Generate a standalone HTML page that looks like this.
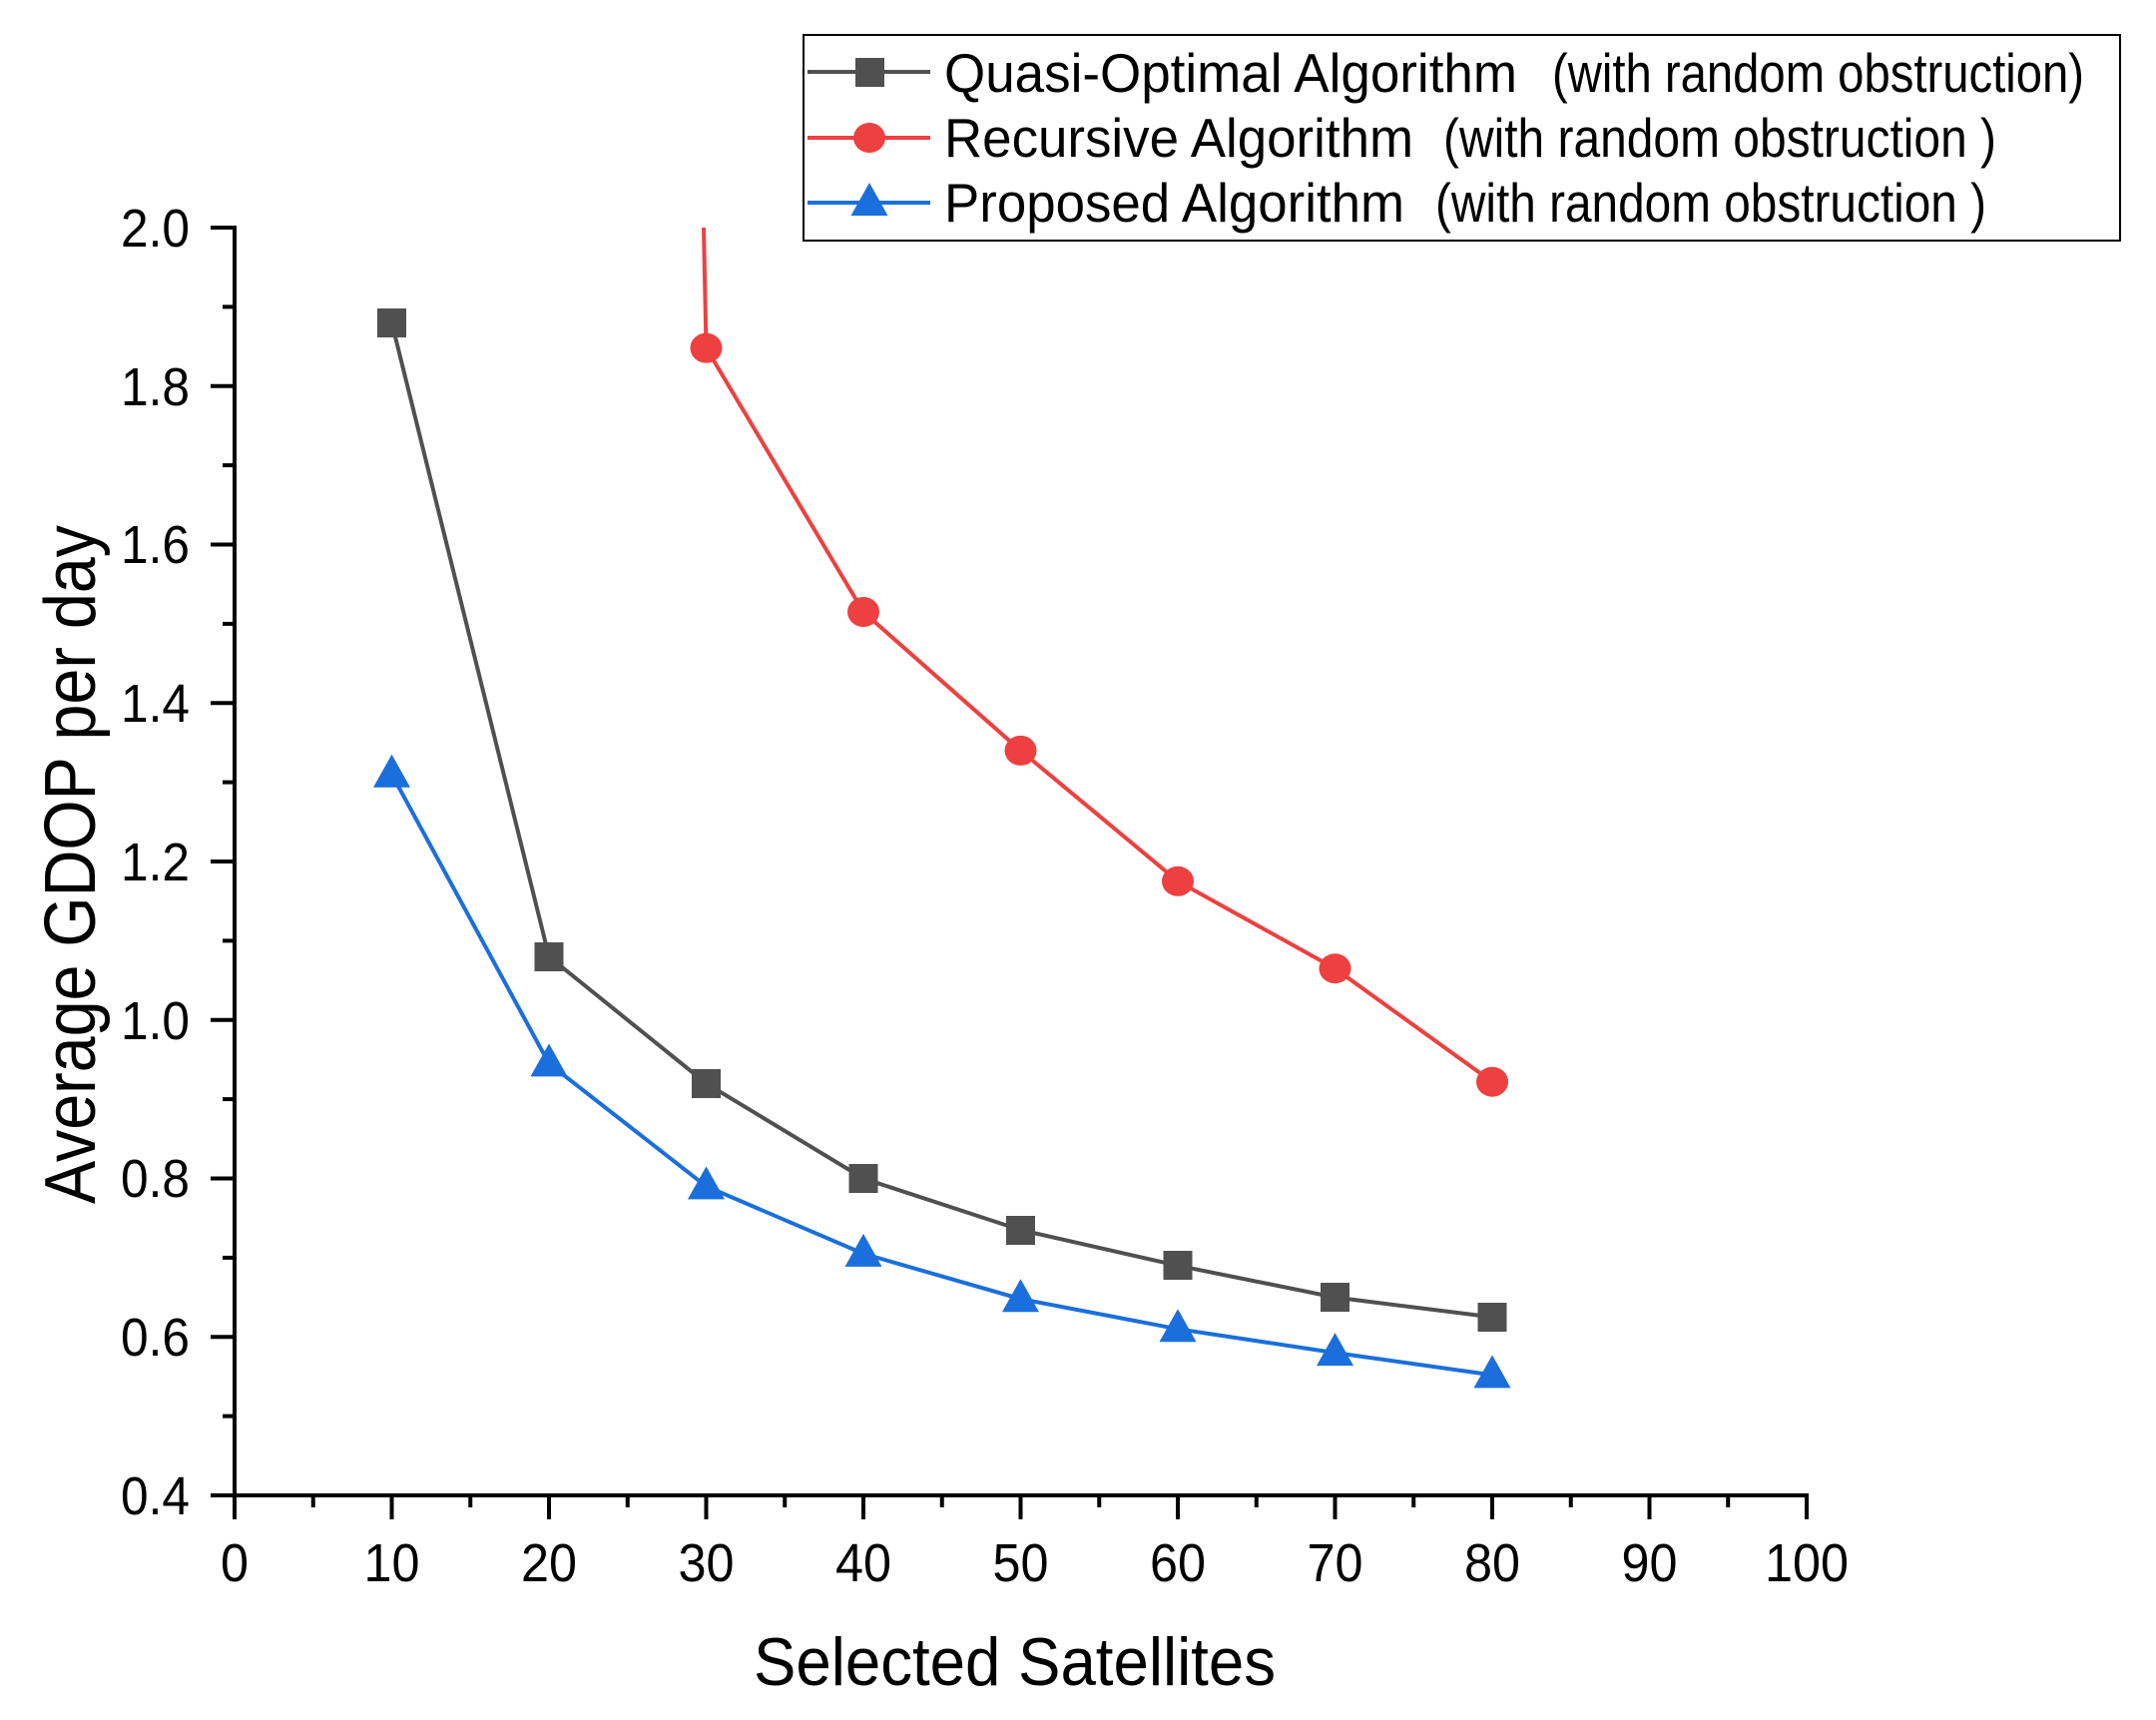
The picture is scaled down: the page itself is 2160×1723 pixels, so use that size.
<!DOCTYPE html>
<html><head><meta charset="utf-8"><style>html,body{margin:0;padding:0;background:#fff}svg{display:block}</style></head>
<body>
<svg width="2160" height="1723" viewBox="0 0 2160 1723" xmlns="http://www.w3.org/2000/svg" font-family="Liberation Sans, Arial, sans-serif">
<rect width="2160" height="1723" fill="#fff"/>
<g stroke="#000" stroke-width="4" fill="none">
<line x1="235" y1="226" x2="235" y2="1500"/>
<line x1="233" y1="1498" x2="1812" y2="1498"/>
<line x1="211" y1="228" x2="235" y2="228"/>
<line x1="211" y1="386.75" x2="235" y2="386.75"/>
<line x1="211" y1="545.5" x2="235" y2="545.5"/>
<line x1="211" y1="704.25" x2="235" y2="704.25"/>
<line x1="211" y1="863" x2="235" y2="863"/>
<line x1="211" y1="1021.75" x2="235" y2="1021.75"/>
<line x1="211" y1="1180.5" x2="235" y2="1180.5"/>
<line x1="211" y1="1339.25" x2="235" y2="1339.25"/>
<line x1="211" y1="1498" x2="235" y2="1498"/>
<line x1="223" y1="307.4" x2="235" y2="307.4"/>
<line x1="223" y1="466.1" x2="235" y2="466.1"/>
<line x1="223" y1="624.9" x2="235" y2="624.9"/>
<line x1="223" y1="783.6" x2="235" y2="783.6"/>
<line x1="223" y1="942.4" x2="235" y2="942.4"/>
<line x1="223" y1="1101.1" x2="235" y2="1101.1"/>
<line x1="223" y1="1259.9" x2="235" y2="1259.9"/>
<line x1="223" y1="1418.6" x2="235" y2="1418.6"/>
<line x1="235" y1="1498" x2="235" y2="1522"/>
<line x1="392.5" y1="1498" x2="392.5" y2="1522"/>
<line x1="550" y1="1498" x2="550" y2="1522"/>
<line x1="707.5" y1="1498" x2="707.5" y2="1522"/>
<line x1="865" y1="1498" x2="865" y2="1522"/>
<line x1="1022.5" y1="1498" x2="1022.5" y2="1522"/>
<line x1="1180" y1="1498" x2="1180" y2="1522"/>
<line x1="1337.5" y1="1498" x2="1337.5" y2="1522"/>
<line x1="1495" y1="1498" x2="1495" y2="1522"/>
<line x1="1652.5" y1="1498" x2="1652.5" y2="1522"/>
<line x1="1810" y1="1498" x2="1810" y2="1522"/>
<line x1="313.75" y1="1498" x2="313.75" y2="1510"/>
<line x1="471.25" y1="1498" x2="471.25" y2="1510"/>
<line x1="628.75" y1="1498" x2="628.75" y2="1510"/>
<line x1="786.25" y1="1498" x2="786.25" y2="1510"/>
<line x1="943.75" y1="1498" x2="943.75" y2="1510"/>
<line x1="1101.25" y1="1498" x2="1101.25" y2="1510"/>
<line x1="1258.75" y1="1498" x2="1258.75" y2="1510"/>
<line x1="1416.25" y1="1498" x2="1416.25" y2="1510"/>
<line x1="1573.75" y1="1498" x2="1573.75" y2="1510"/>
<line x1="1731.25" y1="1498" x2="1731.25" y2="1510"/>
</g>
<g font-size="54" text-anchor="end" fill="#000">
<text x="190" y="247" textLength="69" lengthAdjust="spacingAndGlyphs">2.0</text>
<text x="190" y="406" textLength="69" lengthAdjust="spacingAndGlyphs">1.8</text>
<text x="190" y="564" textLength="69" lengthAdjust="spacingAndGlyphs">1.6</text>
<text x="190" y="723" textLength="69" lengthAdjust="spacingAndGlyphs">1.4</text>
<text x="190" y="882" textLength="69" lengthAdjust="spacingAndGlyphs">1.2</text>
<text x="190" y="1041" textLength="69" lengthAdjust="spacingAndGlyphs">1.0</text>
<text x="190" y="1199" textLength="69" lengthAdjust="spacingAndGlyphs">0.8</text>
<text x="190" y="1358" textLength="69" lengthAdjust="spacingAndGlyphs">0.6</text>
<text x="190" y="1517" textLength="69" lengthAdjust="spacingAndGlyphs">0.4</text>
</g>
<g font-size="54" text-anchor="middle" fill="#000">
<text x="235" y="1584" textLength="28" lengthAdjust="spacingAndGlyphs">0</text>
<text x="392.5" y="1584" textLength="56" lengthAdjust="spacingAndGlyphs">10</text>
<text x="550" y="1584" textLength="56" lengthAdjust="spacingAndGlyphs">20</text>
<text x="707.5" y="1584" textLength="56" lengthAdjust="spacingAndGlyphs">30</text>
<text x="865" y="1584" textLength="56" lengthAdjust="spacingAndGlyphs">40</text>
<text x="1022.5" y="1584" textLength="56" lengthAdjust="spacingAndGlyphs">50</text>
<text x="1180" y="1584" textLength="56" lengthAdjust="spacingAndGlyphs">60</text>
<text x="1337.5" y="1584" textLength="56" lengthAdjust="spacingAndGlyphs">70</text>
<text x="1495" y="1584" textLength="56" lengthAdjust="spacingAndGlyphs">80</text>
<text x="1652.5" y="1584" textLength="56" lengthAdjust="spacingAndGlyphs">90</text>
<text x="1810" y="1584" textLength="84" lengthAdjust="spacingAndGlyphs">100</text>
</g>
<text x="755" y="1688" font-size="68" textLength="523" lengthAdjust="spacingAndGlyphs">Selected Satellites</text>
<text transform="translate(95,1206) rotate(-90)" font-size="72" textLength="680" lengthAdjust="spacingAndGlyphs">Average GDOP per day</text>
<polyline fill="none" stroke="#505050" stroke-width="4" points="392.5,323.3 550,958.3 707.5,1085.3 865,1180.5 1022.5,1232.1 1180,1267.8 1337.5,1299.6 1495,1319.4"/>
<g fill="#505050">
<rect x="378" y="309" width="29" height="29"/><rect x="535.5" y="944" width="29" height="29"/><rect x="693" y="1071" width="29" height="29"/><rect x="850.5" y="1166" width="29" height="29"/><rect x="1008" y="1218" width="29" height="29"/><rect x="1165.5" y="1253" width="29" height="29"/><rect x="1323" y="1285" width="29" height="29"/><rect x="1480.5" y="1305" width="29" height="29"/>
</g>
<polyline fill="none" stroke="#ee4040" stroke-width="4" points="705,228 707.5,348.6 865,613 1022.5,751.9 1180,882.8 1337.5,970.2 1495,1083.7"/>
<g fill="#ee4040">
<ellipse cx="707.5" cy="348.6" rx="16" ry="15"/><ellipse cx="865" cy="613" rx="16" ry="15"/><ellipse cx="1022.5" cy="751.9" rx="16" ry="15"/><ellipse cx="1180" cy="882.8" rx="16" ry="15"/><ellipse cx="1337.5" cy="970.2" rx="16" ry="15"/><ellipse cx="1495" cy="1083.7" rx="16" ry="15"/>
</g>
<polyline fill="none" stroke="#1a6fdc" stroke-width="4" points="392.5,775.7 550,1065.4 707.5,1188.4 865,1255.9 1022.5,1301.2 1180,1331.3 1337.5,1355.1 1495,1377.4"/>
<g fill="#1a6fdc">
<polygon points="392.5,755.7 411,788.7 374,788.7"/>
<polygon points="550,1045.4 568.5,1078.4 531.5,1078.4"/>
<polygon points="707.5,1168.4 726,1201.4 689,1201.4"/>
<polygon points="865,1235.9 883.5,1268.9 846.5,1268.9"/>
<polygon points="1022.5,1281.2 1041,1314.2 1004,1314.2"/>
<polygon points="1180,1311.3 1198.5,1344.3 1161.5,1344.3"/>
<polygon points="1337.5,1335.1 1356,1368.1 1319,1368.1"/>
<polygon points="1495,1357.4 1513.5,1390.4 1476.5,1390.4"/>
</g>
<rect x="805" y="35" width="1319" height="206" fill="#fff" stroke="#000" stroke-width="2"/>
<line x1="809" y1="72" x2="932" y2="72" stroke="#505050" stroke-width="4"/>
<rect x="857" y="58" width="29" height="29" fill="#505050"/>
<line x1="809" y1="138" x2="932" y2="138" stroke="#ee4040" stroke-width="4"/>
<ellipse cx="871" cy="138" rx="16" ry="15" fill="#ee4040"/>
<line x1="809" y1="203" x2="932" y2="203" stroke="#1a6fdc" stroke-width="4"/>
<polygon points="871,183 889.5,216 852.5,216" fill="#1a6fdc"/>
<g font-size="55" fill="#000">
<text x="946" y="92" textLength="574" lengthAdjust="spacingAndGlyphs">Quasi-Optimal Algorithm</text>
<text x="1555" y="92" textLength="533" lengthAdjust="spacingAndGlyphs">(with random obstruction)</text>
<text x="946" y="157" textLength="470" lengthAdjust="spacingAndGlyphs">Recursive Algorithm</text>
<text x="1446" y="157" textLength="554" lengthAdjust="spacingAndGlyphs">(with random  obstruction )</text>
<text x="946" y="222" textLength="461" lengthAdjust="spacingAndGlyphs">Proposed Algorithm</text>
<text x="1438" y="222" textLength="552" lengthAdjust="spacingAndGlyphs">(with random  obstruction )</text>
</g>
</svg>
</body></html>
